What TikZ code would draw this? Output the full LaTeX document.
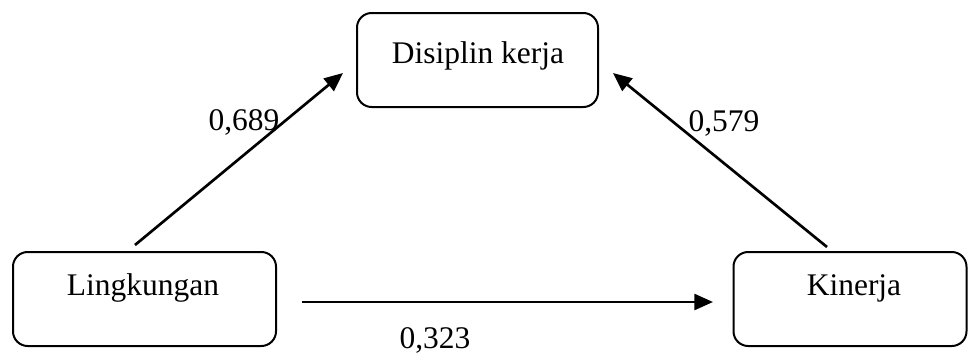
\documentclass[tikz,border=0pt]{standalone}
\usepackage{fontspec}
\setmainfont{Liberation Serif}
\usetikzlibrary{arrows.meta}
\begin{document}
\begin{tikzpicture}[x=0.75pt,y=-0.75pt,
  box/.style={draw,line width=1.5pt,rounded corners=11pt,inner sep=0pt},
  txt/.style={font=\fontsize{23.6pt}{28pt}\selectfont,anchor=base,inner sep=0pt},
  conn/.style={line width=2pt,-{Triangle[length=14pt,width=12pt]}}]
\useasboundingbox (0,0) rectangle (968,358);
% boxes
\node[box,minimum width=241*0.75pt,minimum height=94*0.75pt] (dis) at (477.5,60) {};
\node[box,minimum width=263*0.75pt,minimum height=94*0.75pt] (lin) at (144.5,299) {};
\node[box,minimum width=233*0.75pt,minimum height=94*0.75pt] (kin) at (850,299) {};
% box texts
\node[txt] (tdis) at (478,63) {Disiplin kerja};
\node[txt] (tlin) at (143,295) {Lingkungan};
\node[txt] (tkin) at (854,295) {Kinerja};
% connector ends
\coordinate (a1s) at (135,245);
\coordinate (a1e) at (343,73);
\coordinate (a2s) at (827,247);
\coordinate (a2e) at (613,73);
\coordinate (a3s) at (302,302);
\coordinate (a3e) at (713,302);
\draw[conn] (a1s) -- (a1e);
\draw[conn] (a2s) -- (a2e);
\draw[conn] (a3s) -- (a3e);
% labels
\node[txt] (l1) at (244,130) {0,689};
\node[txt] (l2) at (724,131) {0,579};
\node[txt] (l3) at (435,348) {0,323};
\end{tikzpicture}
\end{document}
